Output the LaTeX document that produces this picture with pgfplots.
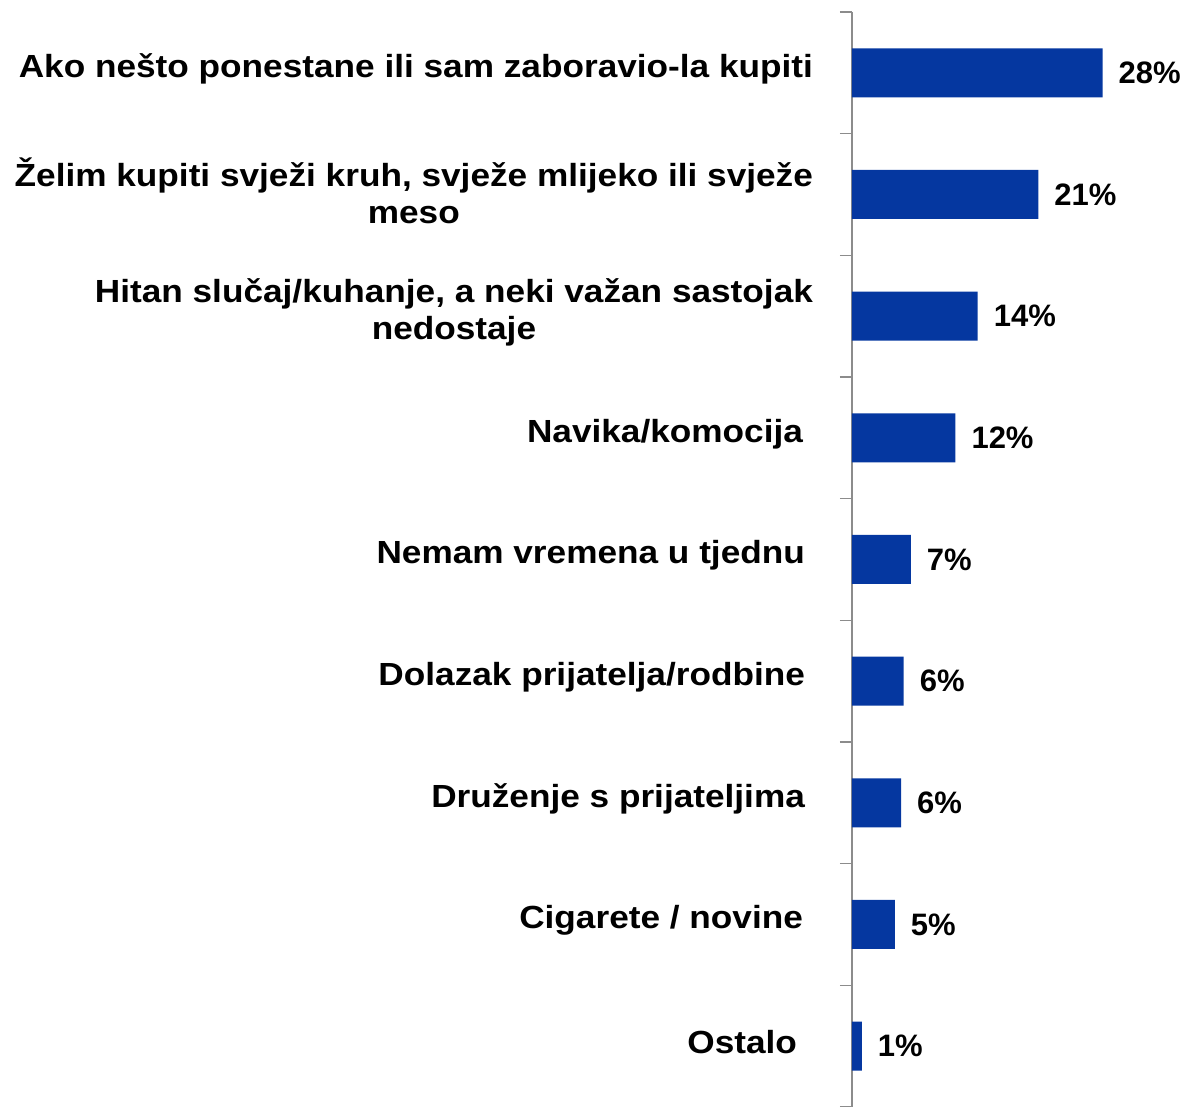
\documentclass[border=0pt]{standalone}
\usepackage{pgfplots}
\pgfplotsset{compat=1.18}
\usepackage{pgfplotstable}
\usepackage{fontspec}
\setmainfont{Liberation Sans}[FakeStretch=1.1]
\newfontfamily\valfont{Liberation Sans}
\definecolor{barblue}{RGB}{5,55,160}
\definecolor{axgray}{RGB}{140,140,140}
\pgfplotstableread{
y x lab
1 28.1 28
2 20.9 21
3 14.1 14
4 11.6 12
5 6.6 7
6 5.8 6
7 5.5 6
8 4.8 5
9 1.1 1
}\data
\begin{document}
\begin{tikzpicture}
\begin{axis}[
  scale only axis,
  width=165pt, height=547.5pt,
  xmin=0, xmax=37,
  ymin=0.5, ymax=9.5,
  y dir=reverse,
  axis x line=none,
  axis y line*=left,
  axis line style={axgray, line width=0.8pt},
  ytick={1,...,9},
  major tick length=0pt,
  minor ytick={0.5,1.5,...,9.5},
  minor tick length=6pt,
  tick align=outside,
  minor tick style={axgray, line width=0.8pt},
  yticklabels={
    {Ako nešto ponestane ili sam zaboravio-la kupiti},
    {Želim kupiti svježi kruh, svježe mlijeko ili svježe\\meso},
    {Hitan slučaj/kuhanje, a neki važan sastojak\\nedostaje},
    {Navika/komocija\hspace*{5pt}},
    {Nemam vremena u tjednu\hspace*{4pt}},
    {Dolazak prijatelja/rodbine\hspace*{4pt}},
    {Druženje s prijateljima\hspace*{4pt}},
    {Cigarete / novine\hspace*{5pt}},
    {Ostalo\hspace*{8pt}}
  },
  yticklabel style={font=\bfseries\fontsize{16}{18.5}\selectfont, align=center, xshift=-16pt, yshift=2pt},
  xbar,
  bar width=24.5pt,
  nodes near coords={\pgfplotspointmeta\%},
  point meta=explicit symbolic,
  nodes near coords style={font=\valfont\bfseries\fontsize{15.5}{18}\selectfont, anchor=west, xshift=4.5pt, black},
  clip=false,
]
\addplot[fill=barblue, draw=none] table[x=x, y=y, meta=lab] {\data};
\coordinate (A) at (axis cs:0,9.5);
\coordinate (B) at (axis cs:0,0.5);
\end{axis}
\pgfresetboundingbox
\path[use as bounding box] ([xshift=-426pt]A) rectangle ([xshift=165pt,yshift=6pt]B);
\end{tikzpicture}
\end{document}
